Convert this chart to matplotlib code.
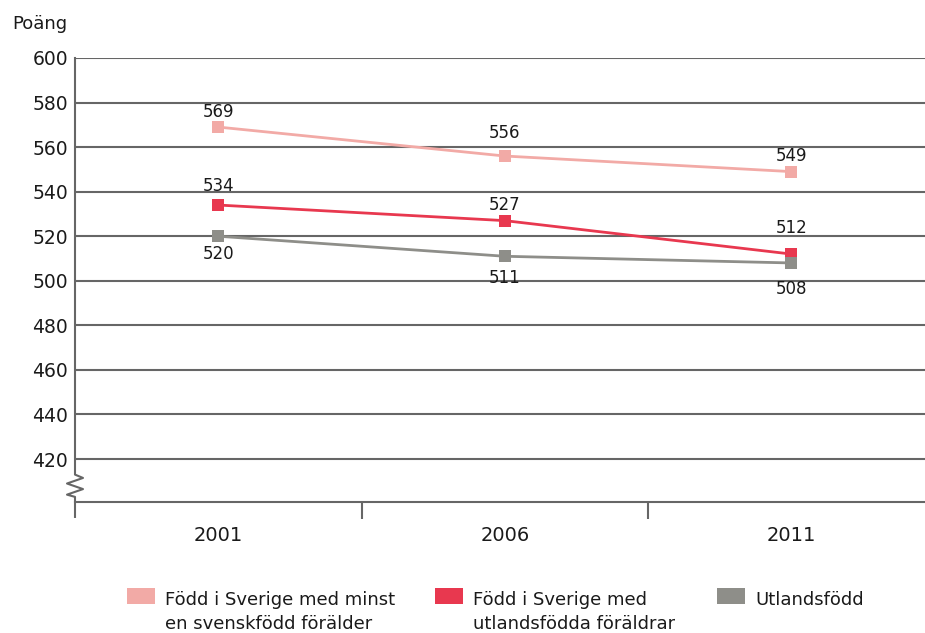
import matplotlib
matplotlib.use("Agg")
import matplotlib.pyplot as plt
from matplotlib.patches import Rectangle
import matplotlib.transforms as mtransforms

plt.rcParams['font.family'] = ['DejaVu Sans']

years = ["2001", "2006", "2011"]
series_names = [
    "Född i Sverige med minst\nen svenskfödd förälder",
    "Född i Sverige med\nutlandsfödda föräldrar",
    "Utlandsfödd",
]
svensk_foralder = [569, 556, 549]
utlandsfodda_foraldrar = [534, 527, 512]
utlandsfodd = [520, 511, 508]
y_ticks = list(range(420, 601, 20))

# styling: colours and value-label offsets (pixels, + above / - below the marker)
colors = ["#f2aaa6", "#e8384f", "#8e8e89"]
label_offsets = [
    [15, 23, 16],
    [19, 16, 26],
    [-18, -22, -26],
]

W, H = 925, 633
fig = plt.figure(figsize=(W / 100, H / 100), dpi=100)
left, right, top, bottom = 75, 925, 58, 502
ax = fig.add_axes([left / W, 1 - bottom / H, (right - left) / W, (bottom - top) / H])

ax.set_xlim(0, (right - left) / 286.5)
ax.set_ylim(400.7, 600)

grid_color = "#666666"
text_color = "#1a1a1a"
for yv in y_ticks:
    ax.axhline(yv, color=grid_color, lw=1.5, zorder=1)

xs = [i + 0.5 for i in range(len(years))]
all_series = [svensk_foralder, utlandsfodda_foraldrar, utlandsfodd]
for vals, col, offs in zip(all_series, colors, label_offsets):
    ax.plot(xs, vals, color=col, lw=2, marker="s", markersize=9,
            markeredgewidth=0, zorder=3)
    for x, v, off in zip(xs, vals, offs):
        ax.annotate(str(v), (x, v), xytext=(0, off), textcoords="offset pixels",
                    ha="center", va="center", fontsize=12, color=text_color)

# Spines: left axis drawn by hand with a break symbol near the bottom
for s in ["top", "right", "left"]:
    ax.spines[s].set_visible(False)
ax.spines["bottom"].set_color(grid_color)
ax.spines["bottom"].set_linewidth(1.5)

blend = mtransforms.blended_transform_factory(ax.transAxes, ax.transData)
a = 8 / (right - left)
zx = [0, 0, a, -a, a, -a, 0, 0]
zy = [600, 413, 411.5, 409, 406.5, 404, 403, 394]
ax.plot(zx, zy, color=grid_color, lw=1.5, transform=blend, clip_on=False, zorder=2)

ax.set_yticks(y_ticks)
ax.set_yticklabels([str(v) for v in y_ticks])
ax.tick_params(axis="y", length=0, pad=5, labelsize=13.5, labelcolor=text_color)

ax.set_xticks([1, 2])
ax.set_xticklabels([])
ax.set_xticks(xs, minor=True)
ax.set_xticklabels(years, minor=True)
ax.tick_params(axis="x", which="major", length=12, width=1.5, color=grid_color)
ax.tick_params(axis="x", which="minor", length=0, pad=17, labelsize=14,
               labelcolor=text_color)

fig.text(12 / W, 1 - 24 / H, "Poäng", fontsize=13, color=text_color, va="center")

# Legend: colour swatch aligned with the first text line of each entry
legend_x = [127, 435, 717]
for lx, name, col in zip(legend_x, series_names, colors):
    fig.add_artist(Rectangle((lx / W, 1 - 604 / H), 28 / W, 16 / H,
                             transform=fig.transFigure, facecolor=col,
                             edgecolor="none"))
    fig.text((lx + 38) / W, 1 - 591 / H, name, fontsize=13, color=text_color,
             va="top", ha="left", linespacing=1.4)

fig.savefig("out.png", dpi=100)
